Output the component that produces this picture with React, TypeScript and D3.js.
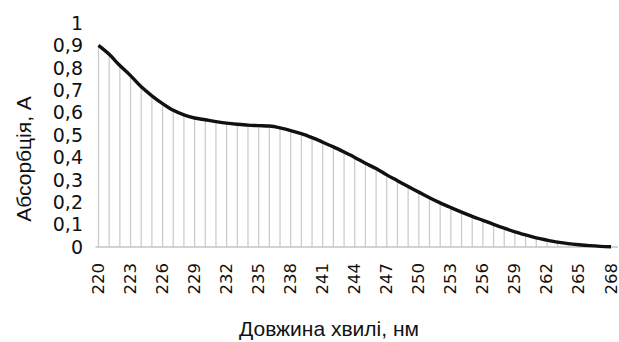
import React from "react";
import * as d3 from "d3";

// wavelength, nm
const wavelengths = [
  220, 221, 222, 223, 224, 225, 226, 227, 228, 229, 230, 231, 232, 233, 234, 235, 236,
  237, 238, 239, 240, 241, 242, 243, 244, 245, 246, 247, 248, 249, 250, 251, 252, 253,
  254, 255, 256, 257, 258, 259, 260, 261, 262, 263, 264, 265, 266, 267, 268,
];
// absorbance, A
const absorbance = [
  0.9, 0.86, 0.81, 0.765, 0.715, 0.675, 0.64, 0.61, 0.59, 0.576, 0.568, 0.56, 0.553,
  0.548, 0.544, 0.542, 0.54, 0.532, 0.52, 0.506, 0.488, 0.468, 0.447, 0.424, 0.4,
  0.374, 0.35, 0.322, 0.296, 0.27, 0.245, 0.22, 0.197, 0.176, 0.156, 0.137, 0.119,
  0.101, 0.084, 0.068, 0.054, 0.041, 0.031, 0.022, 0.015, 0.01, 0.006, 0.003, 0.001,
];
const xTickLabels = [220, 223, 226, 229, 232, 235, 238, 241, 244, 247, 250, 253, 256, 259, 262, 265, 268];
const yTickValues = [0, 0.1, 0.2, 0.3, 0.4, 0.5, 0.6, 0.7, 0.8, 0.9, 1];

const width = 619;
const height = 342;
const left = 98.5;
const right = 611;
const top = 23;
const bottom = 247;

const tickFont = "DejaVu Sans, sans-serif";
const titleFont = "Liberation Sans, Arial, sans-serif";

export default function App() {
  const x = d3.scaleLinear().domain([220, 268]).range([left, right]);
  const y = d3.scaleLinear().domain([0, 1]).range([bottom, top]);
  const pts = wavelengths.map((w, i) => ({ w, a: absorbance[i] }));
  const line = d3
    .line<{ w: number; a: number }>()
    .x((d) => x(d.w))
    .y((d) => y(d.a))
    .curve(d3.curveMonotoneX);
  const fmt = (v: number) => (v === 0 || v === 1 ? String(v) : d3.format(".1f")(v).replace(".", ","));

  return (
    <svg
      width={width}
      height={height}
      style={{ position: "absolute", left: 0, top: 0, background: "#fff" }}
    >
      {/* drop lines */}
      {pts.map((d) => (
        <line
          key={d.w}
          x1={x(d.w)}
          x2={x(d.w)}
          y1={y(d.a)}
          y2={bottom}
          stroke="#c9c9c9"
          strokeWidth={1.2}
        />
      ))}
      {/* x axis line */}
      <line x1={left - 3} x2={618} y1={bottom} y2={bottom} stroke="#c4c4c4" strokeWidth={1.5} />
      <path d={line(pts) ?? ""} fill="none" stroke="#111" strokeWidth={3.4} />

      {yTickValues.map((v) => (
        <text
          key={v}
          x={83}
          y={y(v)}
          dy="0.36em"
          textAnchor="end"
          fontFamily={tickFont}
          fontSize={19}
          fill="#111"
        >
          {fmt(v)}
        </text>
      ))}
      {xTickLabels.map((v) => (
        <text
          key={v}
          transform={`translate(${x(v) + 5.5},${263}) rotate(-90)`}
          textAnchor="end"
          fontFamily={tickFont}
          fontSize={16.5}
          fill="#111"
        >
          {v}
        </text>
      ))}
      <text
        transform={`translate(31,159) rotate(-90)`}
        textAnchor="middle"
        fontFamily={titleFont}
        fontSize={21}
        fill="#111"
      >
        Абсорбція, А
      </text>
      <text x={329} y={336} textAnchor="middle" fontFamily={titleFont} fontSize={21} fill="#111">
        Довжина хвилі, нм
      </text>
    </svg>
  );
}
